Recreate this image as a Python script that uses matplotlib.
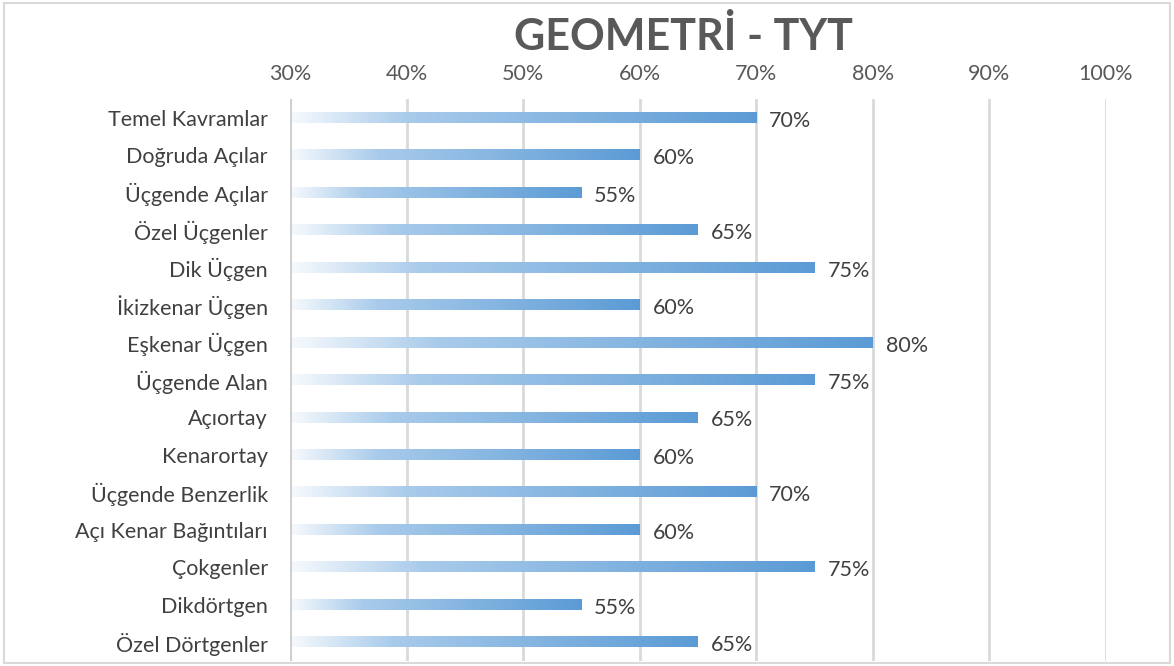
import matplotlib.pyplot as plt
import numpy as np
from matplotlib.colors import LinearSegmentedColormap
from matplotlib.patches import Rectangle

konular = [
    "Temel Kavramlar", "Doğruda Açılar", "Üçgende Açılar", "Özel Üçgenler",
    "Dik Üçgen", "İkizkenar Üçgen", "Eşkenar Üçgen", "Üçgende Alan",
    "Açıortay", "Kenarortay", "Üçgende Benzerlik", "Açı Kenar Bağıntıları",
    "Çokgenler", "Dikdörtgen", "Özel Dörtgenler",
]
oranlar = [70, 60, 55, 65, 75, 60, 80, 75, 65, 60, 70, 60, 75, 55, 65]
x_ticks = [30, 40, 50, 60, 70, 80, 90, 100]

plt.rcParams['font.family'] = ['Lato', 'DejaVu Sans']

fig = plt.figure(figsize=(11.74, 6.66), dpi=100)
fig.patches.append(Rectangle((0.003, 0.005), 0.994, 0.99, transform=fig.transFigure,
                             fill=False, edgecolor='#d9d9d9', linewidth=1.5))

ax = fig.add_axes([290 / 1174, 5 / 666, 816 / 1174, 562 / 666])

# white -> light blue -> blue gradient, like the Excel fill
cmap = LinearSegmentedColormap.from_list(
    "grad", [(0.0, "#f7fafd"), (0.25, "#a9cbeb"), (1.0, "#5b9bd5")])
grad = np.linspace(0, 1, 256).reshape(1, -1)

bar_h = 0.27
for i, val in enumerate(oranlar):
    ax.imshow(grad, cmap=cmap, aspect='auto', interpolation='bilinear',
              extent=(30, val, i + bar_h / 2, i - bar_h / 2), zorder=3)
    ax.text(val + 1.1, i + 0.08, f"{val}%", va='center', ha='left', fontsize=15.5,
            color='#404040', zorder=4)

ax.set_xlim(30, 100)
ax.set_ylim(len(konular) - 0.5, -0.5)
ax.set_xticks(x_ticks)
ax.set_xticklabels([f"{t}%" for t in x_ticks])
ax.set_yticks(range(len(konular)))
ax.set_yticklabels(konular)
ax.xaxis.tick_top()
ax.tick_params(axis='x', length=0, pad=11, labelsize=15.5, labelcolor='#595959')
ax.tick_params(axis='y', length=0, pad=16, labelsize=15.5, labelcolor='#404040')

for t in x_ticks[1:]:
    ax.axvline(t, color='#d9d9d9', linewidth=2, zorder=1)
ax.axvline(30, color='#d0d0d0', linewidth=3, zorder=5)

for s in ax.spines.values():
    s.set_visible(False)

fig.text(683 / 1174, 1 - 36 / 666, "GEOMETRİ - TYT", ha='center', va='center',
         fontsize=31, fontweight='bold', color='#595959')

fig.savefig("out.png", dpi=100)
